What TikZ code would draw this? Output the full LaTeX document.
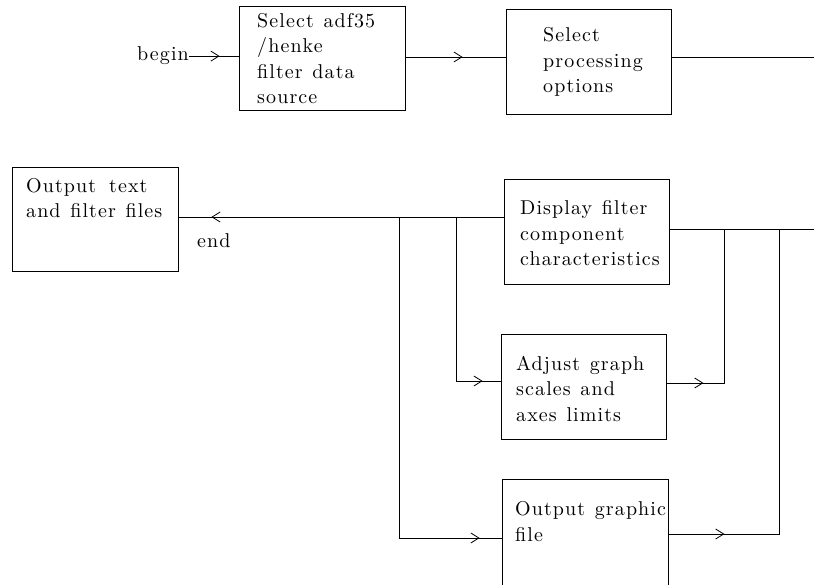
\documentclass[tikz,border=0pt]{standalone}
\usepackage{fontspec}
\usetikzlibrary{arrows.meta,decorations.markings}
\newfontfamily\flowfam{lmroman10-regular.otf}[LetterSpace=5.5,WordSpace=1.25]
\newcommand\flowfont{\flowfam\fontsize{20}{25.5}\selectfont}
\begin{document}
\begin{tikzpicture}[x=1pt,y=-1pt,
  wire/.style={line width=0.8pt},
  box/.style={draw,line width=0.8pt,rectangle,inner sep=0pt},
  lbl/.style={anchor=base west,inner sep=0pt,align=left,font=\flowfont},
  tipat/.style={postaction={decorate},decoration={markings,
    mark=at position #1 with {\arrow[line width=0.8pt]{Straight Barb[length=8pt,width=10pt]}}}}]
\useasboundingbox (0,0) rectangle (814,585);

% process boxes
\node[box,minimum width=166,minimum height=104] (sel)    at (322,58)    {};
\node[box,minimum width=165,minimum height=105] (opt)    at (588.5,61.5) {};
\node[box,minimum width=166,minimum height=104] (outtxt) at (95,219)    {};
\node[box,minimum width=165,minimum height=105] (disp)   at (586.5,231.5) {};
\node[box,minimum width=165,minimum height=105] (adj)    at (583.5,386.5) {};
\node[box,minimum width=166,minimum height=106] (outgr)  at (585,532)   {};

% box texts (anchored at the baseline of the last line)
\node[lbl] (selT)    at (257,104) {Select adf35\\/henke\\filter data\\source};
\node[lbl] (optT)    at (543,93)  {Select\\processing\\options};
\node[lbl] (outtxtT) at (26,218)  {Output\hspace{13pt}text\\and filter files};
\node[lbl] (dispT)   at (520,266) {Display filter\\component\\characteristics};
\node[lbl] (adjT)    at (516,421) {Adjust graph\\scales and\\axes limits};
\node[lbl] (outgrT)  at (515,541) {Output graphic\\file};

% start and end labels
\node[lbl] (begin) at (137,61) {begin};
\node[lbl] (endL)  at (197,248) {end};

% junctions and free ends
\coordinate (jOut)   at (399,217);
\coordinate (jAdj)   at (456,217);
\coordinate (jR1)    at (724,229);
\coordinate (jR2)    at (779,229);
\coordinate (edgeA)  at (814,57);
\coordinate (edgeB)  at (814,229);

% connectors
\draw[wire,tipat=-19pt] (begin.east) -- (begin.east -| sel.west);
\draw[wire,tipat=-43pt] (sel.east |- edgeA) -- (opt.west |- edgeA);
\draw[wire] (opt.east |- edgeA) -- (edgeA);
\draw[wire,tipat=-33pt] (disp.west |- jOut) -- (outtxt.east |- jOut);
\draw[wire,tipat=-22pt] (jOut) -- (399,538) -- (outgr.west |- 0,538);
\draw[wire,tipat=-18pt] (jAdj) -- (456,381) -- (adj.west |- 0,381);
\draw[wire] (disp.east |- edgeB) -- (edgeB);
\draw[wire,tipat=37pt] (adj.east |- 0,383) -- (724,383) -- (jR1);
\draw[wire,tipat=56pt] (outgr.east |- 0,534) -- (779,534) -- (jR2);
\end{tikzpicture}
\end{document}
